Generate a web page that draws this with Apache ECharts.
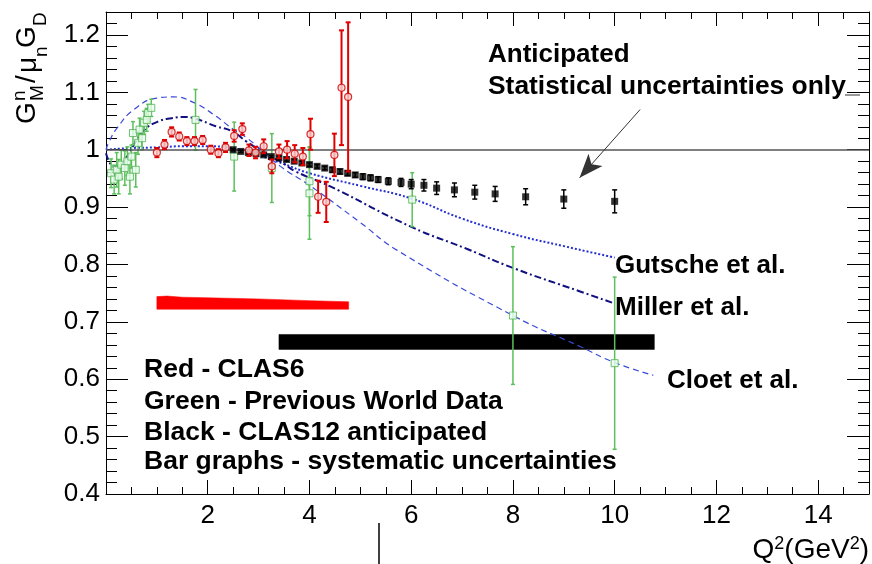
<!doctype html>
<html>
<head>
<meta charset="utf-8">
<style>html,body{margin:0;padding:0;background:#fff}#main{width:872px;height:564px}</style>
</head>
<body>
<div id="main"></div>
<script src="https://cdn.jsdelivr.net/npm/echarts@6/dist/echarts.min.js"></script>
<script>
var FONT = '"Liberation Sans", Arial, Helvetica, sans-serif';

// CLAS12 anticipated (black), statistical errors only
var clas12Q2 = [2.5, 2.65, 2.8, 2.95, 3.1, 3.25, 3.4, 3.55, 3.7, 3.85, 4.0, 4.15, 4.3, 4.45, 4.6, 4.75, 4.9, 5.05, 5.2, 5.35, 5.55, 5.8, 6.0, 6.25, 6.5, 6.85, 7.25, 7.65, 8.25, 9.0, 10.0];
var clas12Val = [1.0, 0.997, 0.995, 0.993, 0.991, 0.988, 0.986, 0.983, 0.98, 0.977, 0.974, 0.971, 0.968, 0.965, 0.962, 0.959, 0.956, 0.953, 0.951, 0.948, 0.945, 0.943, 0.94, 0.938, 0.933, 0.93, 0.926, 0.923, 0.918, 0.914, 0.91];
var clas12Err = [0.002, 0.002, 0.002, 0.002, 0.002, 0.002, 0.003, 0.003, 0.003, 0.003, 0.003, 0.003, 0.003, 0.004, 0.004, 0.004, 0.004, 0.005, 0.005, 0.005, 0.006, 0.007, 0.008, 0.01, 0.011, 0.012, 0.012, 0.013, 0.014, 0.016, 0.02];

// CLAS6 (red)
var clas6Q2 = [1.0, 1.15, 1.29, 1.44, 1.59, 1.74, 1.9, 2.06, 2.21, 2.35, 2.52, 2.68, 2.81, 2.94, 3.1, 3.26, 3.4, 3.56, 3.71, 3.87, 4.02, 4.17, 4.33, 4.49, 4.63, 4.76];
var clas6Val = [0.995, 1.009, 1.031, 1.023, 1.015, 1.015, 1.017, 1.0, 0.994, 1.004, 1.024, 1.036, 0.999, 0.995, 1.006, 0.971, 0.997, 1.0, 0.993, 0.988, 1.027, 0.918, 0.909, 0.991, 1.108, 1.092];
var clas6Err = [0.008, 0.008, 0.008, 0.007, 0.007, 0.007, 0.007, 0.007, 0.007, 0.008, 0.01, 0.01, 0.01, 0.01, 0.012, 0.012, 0.012, 0.015, 0.015, 0.015, 0.027, 0.028, 0.035, 0.037, 0.1, 0.13];

// previous world data (green)
var worldQ2 = [0.1, 0.16, 0.21, 0.25, 0.3, 0.37, 0.42, 0.47, 0.5, 0.53, 0.585, 0.63, 0.66, 0.71, 0.75, 0.8, 0.83, 0.89, 1.76, 2.52, 3.26, 4.0, 4.0, 6.02, 8.0, 10.0];
var worldVal = [0.959, 0.948, 0.965, 0.953, 0.974, 0.968, 0.98, 0.953, 0.988, 1.029, 0.965, 1.012, 1.035, 1.02, 1.047, 1.052, 1.064, 1.073, 1.052, 0.988, 0.968, 0.945, 0.924, 0.913, 0.711, 0.628];
var worldErr = [0.025, 0.025, 0.03, 0.03, 0.025, 0.03, 0.025, 0.03, 0.02, 0.02, 0.03, 0.02, 0.02, 0.02, 0.02, 0.02, 0.015, 0.015, 0.053, 0.06, 0.06, 0.06, 0.08, 0.047, 0.12, 0.15];

// model curves
var gutscheQ2 = [0, 0.5, 1.0, 1.5, 2.0, 2.5, 3.0, 3.5, 4.0, 5.0, 6.0, 7.0, 8.0, 9.0, 10.0];
var gutscheVal = [1.0, 1.003, 1.004, 1.006, 1.006, 1.002, 0.99, 0.975, 0.959, 0.937, 0.915, 0.88, 0.853, 0.832, 0.812];
var millerQ2 = [0, 0.17, 0.37, 0.57, 0.76, 1.02, 1.29, 1.55, 1.76, 2.16, 2.48, 2.75, 3.07, 3.47, 3.73, 4.41, 5.99, 7.1, 8.0, 9.32, 10.0];
var millerVal = [0.994, 0.97, 0.983, 1.012, 1.035, 1.049, 1.055, 1.057, 1.054, 1.041, 1.032, 1.015, 0.997, 0.977, 0.962, 0.936, 0.866, 0.827, 0.794, 0.753, 0.732];
var cloetQ2 = [0, 0.05, 0.22, 0.55, 1.0, 1.33, 1.73, 2.12, 2.51, 2.78, 3.43, 4.0, 5.0, 5.72, 8.0, 9.32, 10.0, 10.76];
var cloetVal = [1.0, 1.012, 1.038, 1.07, 1.09, 1.092, 1.082, 1.061, 1.035, 1.02, 0.971, 0.938, 0.873, 0.825, 0.711, 0.657, 0.629, 0.607];

// systematic uncertainty bands
var clas6SysQ2 = [1.0, 1.2, 1.5, 2.0, 3.0, 4.0, 4.77];
var clas6SysLo = [0.722, 0.722, 0.722, 0.722, 0.722, 0.722, 0.722];
var clas6SysHi = [0.744, 0.745, 0.743, 0.742, 0.74, 0.737, 0.735];
var clas12SysQ2 = [3.4, 10.78];
var clas12SysLo = [0.652, 0.652];
var clas12SysHi = [0.678, 0.678];

function pairs(xs, ys) {
    return xs.map(function (x, i) { return [x, ys[i]]; });
}
function triples(xs, ys, es) {
    return xs.map(function (x, i) { return [x, ys[i], es[i]]; });
}

function errorBars(color, width, cap) {
    return function (params, api) {
        var x = api.value(0), y = api.value(1), e = api.value(2);
        var hi = api.coord([x, y + e]);
        var lo = api.coord([x, y - e]);
        var style = { stroke: color, lineWidth: width };
        return {
            type: 'group',
            children: [
                { type: 'line', shape: { x1: hi[0], y1: hi[1], x2: lo[0], y2: lo[1] }, style: style },
                { type: 'line', shape: { x1: hi[0] - cap, y1: hi[1], x2: hi[0] + cap, y2: hi[1] }, style: style },
                { type: 'line', shape: { x1: lo[0] - cap, y1: lo[1], x2: lo[0] + cap, y2: lo[1] }, style: style }
            ]
        };
    };
}

function band(xs, lo, hi, color) {
    return function (params, api) {
        if (params.dataIndex !== 0) return;
        var pts = [];
        for (var i = 0; i < xs.length; i++) pts.push(api.coord([xs[i], lo[i]]));
        for (var j = xs.length - 1; j >= 0; j--) pts.push(api.coord([xs[j], hi[j]]));
        return { type: 'polygon', shape: { points: pts }, style: { fill: color, stroke: color, lineWidth: 0.5 } };
    };
}

function xAx(pos, interval, tickLen, showLabel, showLine) {
    return {
        type: 'value', position: pos, min: 0, max: 15, interval: interval,
        axisLine: { show: showLine, onZero: false, lineStyle: { color: '#000', width: 1 } },
        axisTick: { show: true, inside: true, length: tickLen, lineStyle: { color: '#000', width: 1 } },
        axisLabel: {
            show: showLabel, margin: 9, color: '#000', fontFamily: FONT, fontSize: 26,
            formatter: function (v) { return (v === 0 || v === 15) ? '' : String(v); }
        },
        splitLine: { show: false }
    };
}
function yAx(pos, interval, tickLen, showLabel, showLine) {
    return {
        type: 'value', position: pos, min: 0.4, max: 1.24, interval: interval,
        axisLine: { show: showLine, onZero: false, lineStyle: { color: '#000', width: 1 } },
        axisTick: { show: true, inside: true, length: tickLen, lineStyle: { color: '#000', width: 1 } },
        axisLabel: {
            show: showLabel, margin: 6, color: '#000', fontFamily: FONT, fontSize: 26,
            formatter: function (v) {
                var r = Math.round(v * 10) / 10;
                if (Math.abs(v - r) > 1e-6) return '';
                return r === 1 ? '1' : r.toFixed(1);
            }
        },
        splitLine: { show: false }
    };
}

var chart = echarts.init(document.getElementById('main'), null, { renderer: 'canvas' });

function txt(x, y, s, size, bold) {
    return {
        type: 'text', x: x, y: y, z: 100,
        style: { text: s, font: (bold ? 'bold ' : '') + size + 'px ' + FONT, fill: '#000', textVerticalAlign: 'middle' }
    };
}

chart.setOption({
    animation: false,
    backgroundColor: '#fff',
    grid: { left: 106, right: 3, top: 12, bottom: 70, containLabel: false, outerBoundsMode: 'none' },
    xAxis: [
        xAx('bottom', 2, 14, true, true),
        xAx('bottom', 0.5, 7, false, false),
        xAx('top', 2, 14, false, true),
        xAx('top', 0.5, 7, false, false)
    ],
    yAxis: [
        yAx('left', 0.1, 22, true, true),
        yAx('left', 0.02, 11, false, false),
        yAx('right', 0.1, 22, false, true),
        yAx('right', 0.02, 11, false, false)
    ],
    series: [
        {
            type: 'custom', name: 'CLAS6 sys', renderItem: band(clas6SysQ2, clas6SysLo, clas6SysHi, '#ff0000'),
            data: pairs(clas6SysQ2, clas6SysLo), encode: { x: 0, y: 1 }, z: 1
        },
        {
            type: 'custom', name: 'CLAS12 sys', renderItem: band(clas12SysQ2, clas12SysLo, clas12SysHi, '#000000'),
            data: pairs(clas12SysQ2, clas12SysLo), encode: { x: 0, y: 1 }, z: 1
        },
        {
            type: 'line', name: 'Gutsche', data: pairs(gutscheQ2, gutscheVal), smooth: true, symbol: 'none', z: 2,
            lineStyle: { color: '#2530d0', width: 2, type: [2, 2] },
            markLine: {
                silent: true, symbol: 'none', label: { show: false },
                lineStyle: { color: '#555', width: 1.5, type: 'solid' },
                data: [[{ coord: [0, 1] }, { coord: [15, 1] }]]
            }
        },
        {
            type: 'line', name: 'Miller', data: pairs(millerQ2, millerVal), smooth: true, symbol: 'none', z: 2,
            lineStyle: { color: '#101080', width: 2, type: [7, 3, 2, 3] }
        },
        {
            type: 'line', name: 'Cloet', data: pairs(cloetQ2, cloetVal), smooth: true, symbol: 'none', z: 2,
            lineStyle: { color: '#3a4ad8', width: 1.2, type: [6, 4] }
        },
        {
            type: 'custom', name: 'World err', renderItem: errorBars('#5cc05c', 1.5, 2),
            data: triples(worldQ2, worldVal, worldErr), encode: { x: 0, y: 1 }, z: 3
        },
        {
            type: 'scatter', name: 'World', data: pairs(worldQ2, worldVal), symbol: 'rect', symbolSize: 7, z: 4,
            itemStyle: { color: '#eafff0', borderColor: '#4fb04f', borderWidth: 1 }
        },
        {
            type: 'custom', name: 'CLAS12 err', renderItem: errorBars('#000', 1.5, 2.5),
            data: triples(clas12Q2, clas12Val, clas12Err), encode: { x: 0, y: 1 }, z: 5
        },
        {
            type: 'scatter', name: 'CLAS12', data: pairs(clas12Q2, clas12Val), symbol: 'rect', symbolSize: 7, z: 5,
            itemStyle: { color: '#000' },
            markLine: {
                silent: true, symbol: ['none', 'arrow'], symbolSize: [14, 24], label: { show: false },
                lineStyle: { color: '#333', width: 1, type: 'solid' },
                data: [[{ coord: [10.5, 1.07] }, { coord: [9.31, 0.951] }]]
            }
        },
        {
            type: 'custom', name: 'CLAS6 err', renderItem: errorBars('#e00000', 2, 2.5),
            data: triples(clas6Q2, clas6Val, clas6Err), encode: { x: 0, y: 1 }, z: 6
        },
        {
            type: 'scatter', name: 'CLAS6', data: pairs(clas6Q2, clas6Val), symbol: 'circle', symbolSize: 7, z: 7,
            itemStyle: { color: '#fbd3d3', borderColor: '#d00000', borderWidth: 1.2 }
        }
    ],
    graphic: [
        txt(488, 55, 'Anticipated', 26, true),
        txt(488, 87, 'Statistical uncertainties only', 26.4, true),
        { type: 'line', shape: { x1: 845, y1: 95, x2: 860, y2: 95 }, style: { stroke: '#333', lineWidth: 1 } },
        txt(615, 266, 'Gutsche et al.', 26, true),
        txt(615, 308, 'Miller et al.', 26, true),
        txt(667, 381, 'Cloet et al.', 26, true),
        txt(144, 370, 'Red - CLAS6', 26.5, true),
        txt(144, 402, 'Green - Previous World Data', 26.5, true),
        txt(144, 433, 'Black - CLAS12 anticipated', 26.5, true),
        txt(144, 462, 'Bar graphs - systematic uncertainties', 26.5, true),
        {
            type: 'text', x: 869, y: 550,
            style: {
                text: '{b|Q}{s|2}{b|(GeV}{s|2}{b|)}', textAlign: 'right', textVerticalAlign: 'middle',
                rich: {
                    b: { fontFamily: FONT, fontSize: 28, lineHeight: 30, color: '#000' },
                    s: { fontFamily: FONT, fontSize: 18, lineHeight: 18, color: '#000', verticalAlign: 'top' }
                }
            }
        },
        { type: 'line', shape: { x1: 379, y1: 523, x2: 379, y2: 564 }, style: { stroke: '#000', lineWidth: 1.5 } },
        {
            type: 'group', x: 27, y: 124, rotation: Math.PI / 2,
            children: [
                { type: 'text', x: 0, y: 0, style: { text: 'G', font: '28px ' + FONT, fill: '#000', textVerticalAlign: 'middle' } },
                { type: 'text', x: 23, y: -7, style: { text: 'n', font: '19px ' + FONT, fill: '#000', textVerticalAlign: 'middle' } },
                { type: 'text', x: 23, y: 11, style: { text: 'M', font: '19px ' + FONT, fill: '#000', textVerticalAlign: 'middle' } },
                { type: 'text', x: 41, y: 0, style: { text: '/', font: '28px ' + FONT, fill: '#000', textVerticalAlign: 'middle' } },
                { type: 'text', x: 51, y: 1, style: { text: 'μ', font: '28px ' + FONT, fill: '#000', textVerticalAlign: 'middle' } },
                { type: 'text', x: 67, y: 15, style: { text: 'n', font: '19px ' + FONT, fill: '#000', textVerticalAlign: 'middle' } },
                { type: 'text', x: 76, y: 0, style: { text: 'G', font: '28px ' + FONT, fill: '#000', textVerticalAlign: 'middle' } },
                { type: 'text', x: 98, y: 14, style: { text: 'D', font: '19px ' + FONT, fill: '#000', textVerticalAlign: 'middle' } }
            ]
        }
    ]
});

window.addEventListener('resize', function () {
    chart.resize();
});
</script>
</body>
</html>
